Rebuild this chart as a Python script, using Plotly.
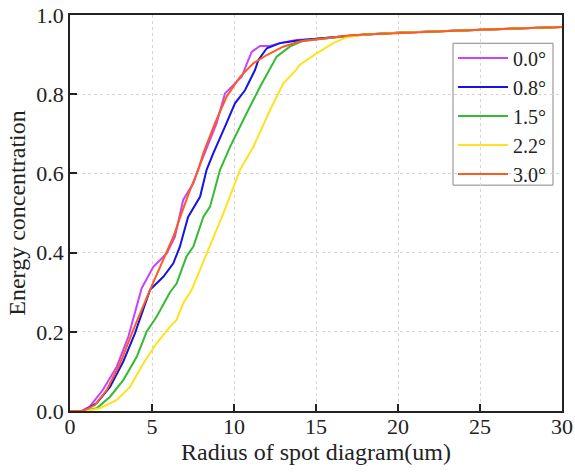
import plotly.graph_objects as go

labels = ["0.0°", "0.8°", "1.5°", "2.2°", "3.0°"]
colors = ["#c444ff", "#1414e6", "#33bb33", "#ffe21f", "#ff5a1f"]

plateau_x = [17.0, 18.0, 20.0, 22.0, 25.0, 28.0, 30.0]
plateau_y = [0.948, 0.951, 0.955, 0.958, 0.963, 0.967, 0.970]

x_00 = [0.0, 0.7, 1.2, 2.0, 2.85, 3.56, 4.37, 5.08, 5.9, 6.4, 6.9, 7.52, 7.8, 8.43, 8.94, 9.45, 10.47, 10.87, 11.08, 11.59, 12.2, 12.8, 13.8, 15.0, 16.3] + plateau_x
y_00 = [0.0, 0.0, 0.011, 0.053, 0.112, 0.188, 0.31, 0.364, 0.398, 0.44, 0.533, 0.575, 0.609, 0.676, 0.727, 0.802, 0.844, 0.886, 0.907, 0.922, 0.922, 0.929, 0.937, 0.94, 0.944] + plateau_y

x_08 = [0.0, 0.8, 1.63, 2.44, 3.25, 3.96, 4.88, 5.69, 6.3, 6.7, 7.2, 7.93, 8.33, 8.74, 9.45, 10.06, 10.67, 11.28, 11.48, 12.0, 12.8, 13.8, 15.0, 16.3] + plateau_x
y_08 = [0.0, 0.0, 0.02, 0.061, 0.125, 0.196, 0.306, 0.339, 0.373, 0.415, 0.49, 0.541, 0.609, 0.651, 0.718, 0.777, 0.81, 0.861, 0.886, 0.916, 0.929, 0.935, 0.94, 0.944] + plateau_y

x_15 = [0.0, 0.9, 1.63, 2.44, 3.25, 4.07, 4.67, 5.28, 6.1, 6.5, 7.1, 7.52, 8.13, 8.54, 9.15, 9.76, 10.77, 11.59, 12.6, 13.4, 14.2, 15.65, 16.3] + plateau_x
y_15 = [0.0, 0.0, 0.007, 0.036, 0.078, 0.137, 0.2, 0.238, 0.3, 0.322, 0.39, 0.415, 0.49, 0.516, 0.609, 0.667, 0.752, 0.819, 0.895, 0.92, 0.935, 0.941, 0.944] + plateau_y

x_22 = [0.0, 1.0, 1.83, 2.85, 3.66, 4.47, 5.28, 6.1, 6.5, 6.9, 7.42, 8.33, 9.35, 10.37, 11.18, 12.2, 13.0, 13.8, 14.0, 15.04, 16.05, 16.9] + plateau_x[1:]
y_22 = [0.0, 0.0, 0.007, 0.028, 0.061, 0.12, 0.171, 0.213, 0.23, 0.272, 0.306, 0.398, 0.499, 0.609, 0.667, 0.76, 0.827, 0.862, 0.874, 0.903, 0.929, 0.944] + plateau_y[1:]

x_30 = [0.0, 0.8, 1.52, 2.24, 3.05, 3.86, 4.88, 5.49, 6.3, 6.8, 7.32, 7.82, 8.13, 8.84, 9.55, 10.37, 11.18, 12.0, 13.0, 14.0, 15.85] + plateau_x
y_30 = [0.0, 0.0, 0.015, 0.053, 0.12, 0.205, 0.306, 0.364, 0.44, 0.499, 0.558, 0.609, 0.651, 0.727, 0.794, 0.844, 0.878, 0.899, 0.92, 0.933, 0.943] + plateau_y

xs = [x_00, x_08, x_15, x_22, x_30]
ys = [y_00, y_08, y_15, y_22, y_30]

x_ticks = [0, 5, 10, 15, 20, 25, 30]
y_ticks = [0.0, 0.2, 0.4, 0.6, 0.8, 1.0]

fig = go.Figure()
for lab, col, xv, yv in zip(labels, colors, xs, ys):
    fig.add_trace(go.Scatter(x=xv, y=yv, mode="lines", name=lab,
                             line=dict(color=col, width=2)))

font = "Liberation Serif"
axis_common = dict(showline=True, linecolor="#222", linewidth=1.5, mirror=True,
                   ticks="inside", ticklen=7, tickwidth=1.5, tickcolor="#222",
                   showgrid=True, gridcolor="#d6d6d6", griddash="dot", gridwidth=1,
                   zeroline=False, automargin=False,
                   tickfont=dict(family=font, size=22, color="#222"))

fig.update_layout(
    width=575, height=474,
    margin=dict(l=70, r=13, t=15, b=63),
    plot_bgcolor="white", paper_bgcolor="white",
    font=dict(family=font, size=20, color="#222"),
    xaxis=dict(range=[0, 30], tickvals=x_ticks, ticklabelstandoff=-5,
               title=dict(text="Radius of spot diagram(um)", font=dict(family=font, size=24), standoff=0),
               **axis_common),
    yaxis=dict(range=[0, 1.0], tickvals=y_ticks, tickformat=".1f",
               title=dict(text="Energy concentration", font=dict(family=font, size=24), standoff=4),
               **axis_common),
    legend=dict(x=0.7785, y=0.9405, xanchor="left", yanchor="top",
                borderwidth=0, bgcolor="rgba(0,0,0,0)",
                itemwidth=50,
                font=dict(family=font, size=20)),
    showlegend=True,
    shapes=[dict(type="rect", xref="paper", yref="paper",
                 x0=0.7785, x1=0.9817, y0=0.5703, y1=0.9286,
                 line=dict(color="#888", width=1), fillcolor="white", layer="below")],
)

fig.write_html("out.html")
